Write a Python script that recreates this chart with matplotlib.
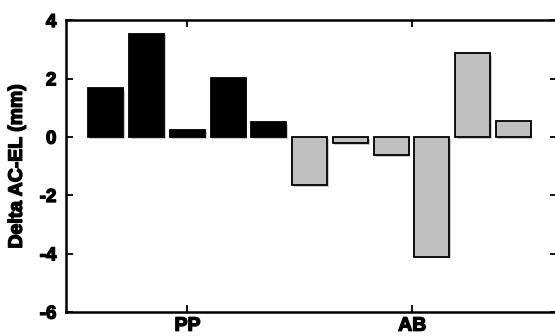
import matplotlib
matplotlib.use("Agg")
import matplotlib.pyplot as plt
import matplotlib.patheffects as pe

plt.rcParams['font.family'] = ['Liberation Sans', 'DejaVu Sans']

# Change in AC-EL distance per subject, by group
pp_values = [1.68, 3.55, 0.25, 2.02, 0.51]
ab_values = [-1.64, -0.21, -0.61, -4.10, 2.89, 0.57]
group_labels = ["PP", "AB"]
y_ticks = [4, 2, 0, -2, -4, -6]

fig = plt.figure(figsize=(5.55, 3.36), dpi=100)
ax = fig.add_axes([0.119, 0.071, 0.885, 0.868])

shadow = [pe.SimplePatchShadow(offset=(1.2, -1.2), shadow_rgbFace="0.6", alpha=0.5), pe.Normal()]
heavy = [pe.withStroke(linewidth=1.0, foreground="black")]

n_pp = len(pp_values)
x_pp = list(range(n_pp))
x_ab = list(range(n_pp, n_pp + len(ab_values)))
width = 0.86

bars_pp = ax.bar(x_pp, pp_values, width=width, color="black", edgecolor="black", linewidth=1.3)
bars_ab = ax.bar(x_ab, ab_values, width=width, color="#c0c0c0", edgecolor="black", linewidth=1.3)
for b in list(bars_pp) + list(bars_ab):
    b.set_path_effects(shadow)

ax.set_xlim(-0.98, 11.08)
ax.set_ylim(-6, 4)
ax.set_yticks(y_ticks)
ax.set_yticklabels([str(v) for v in y_ticks], fontsize=13.5, fontweight="bold")
ax.set_xticks([2.0, 7.52])
ax.set_xticklabels(group_labels, fontsize=14, fontweight="bold")
ax.set_ylabel("Delta AC-EL (mm)", fontsize=14, fontweight="bold", labelpad=10)

for t in ax.get_xticklabels() + ax.get_yticklabels() + [ax.yaxis.label]:
    t.set_path_effects(heavy)

ax.tick_params(direction="in", top=True, right=True, length=5, width=1.3, pad=7)
ax.tick_params(axis="x", pad=4)
for s in ax.spines.values():
    s.set_linewidth(1.8)

fig.savefig("out.png", dpi=100)
